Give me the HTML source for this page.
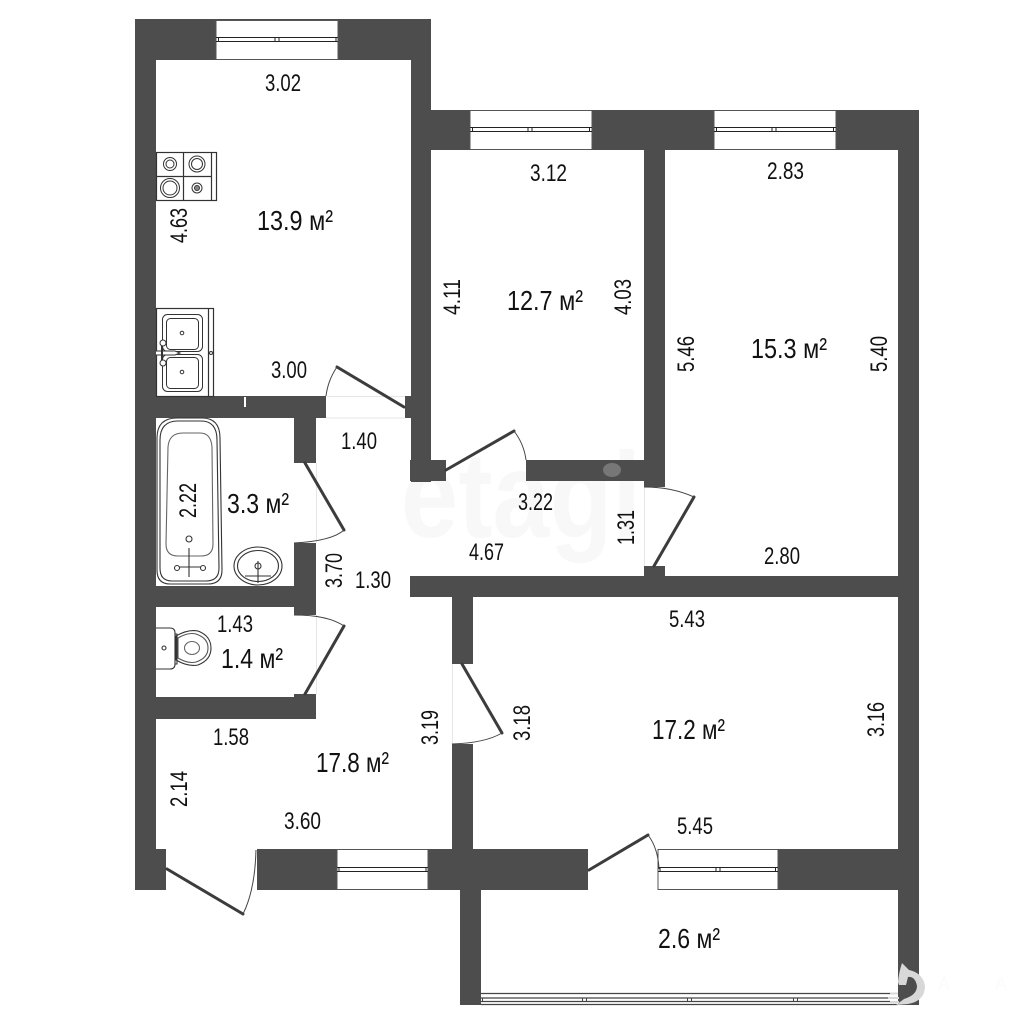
<!DOCTYPE html>
<html><head><meta charset="utf-8"><style>
html,body{margin:0;padding:0;background:#fff}
svg{display:block}
text{font-family:"Liberation Sans",sans-serif;fill:#111}
.d{font-size:24px}
.a{font-size:28px}
</style></head><body>
<svg width="1024" height="1024" viewBox="0 0 1024 1024" xmlns="http://www.w3.org/2000/svg">
<rect width="1024" height="1024" fill="#fff"/>
<!-- watermark -->
<text x="401" y="537" font-size="122" font-weight="bold" textLength="240" lengthAdjust="spacingAndGlyphs" style="fill:#f8f8f8">etagi</text>
<!-- walls -->
<g fill="#4d4d4d">
<rect x="135" y="19" width="296" height="41"/>
<rect x="135" y="19" width="21" height="871"/>
<rect x="135" y="849" width="31" height="41"/>
<rect x="411" y="19" width="20" height="463"/>
<rect x="405" y="396" width="6" height="22"/>
<rect x="431" y="110" width="488" height="40"/>
<rect x="898" y="110" width="21" height="895"/>
<rect x="410" y="460" width="36" height="21"/>
<rect x="526" y="460" width="118" height="21"/>
<rect x="644" y="150" width="21" height="337"/>
<rect x="644" y="566" width="21" height="10"/>
<rect x="410" y="576" width="509" height="21"/>
<rect x="452" y="597" width="21" height="67"/>
<rect x="452" y="744" width="21" height="106"/>
<rect x="257" y="849" width="331" height="41"/>
<rect x="778" y="849" width="120" height="41"/>
<rect x="460" y="890" width="21" height="115"/>
<rect x="156" y="396" width="170" height="22"/>
<rect x="294" y="418" width="22" height="45"/>
<rect x="294" y="543" width="22" height="72"/>
<rect x="156" y="586" width="138" height="21"/>
<rect x="156" y="697" width="160" height="22"/>
<rect x="294" y="694" width="22" height="3"/>
</g>
<rect x="244" y="397" width="2" height="10" fill="#fff"/>
<ellipse cx="612" cy="470" rx="9" ry="7" fill="#777"/>
<!-- thin threshold lines -->
<g stroke="#e6e6e6" stroke-width="1" fill="none">
<path d="M326.5 396.5H405M326 418H405M316.5 463V543M316.500 615V694M452.5 664V744M644.5 487V566"/>
</g>
<!-- windows -->
<g fill="#fff" stroke="#555" stroke-width="1">
<rect x="216" y="20.5" width="122" height="39"/>
<rect x="470" y="110.5" width="122" height="39"/>
<rect x="714" y="110.5" width="122" height="39"/>
<rect x="337" y="849.5" width="91" height="40"/>
<rect x="658" y="849.5" width="120" height="40"/>
</g>
<g stroke="#222" stroke-width="1" fill="none">
<path d="M216 37.5H338M216 41.5H338M218.5 37V42M336 37V42M275 37V42M279 37V42"/>
<path d="M470 127.5H592M470 131.5H592M472.5 127V132M589.5 127V132M528 127V132M532 127V132"/>
<path d="M714 127.5H836M714 131.5H836M716.5 127V132M833.5 127V132M772 127V132M776 127V132"/>
<path d="M337 867.5H428M337 871.5H428M339 867V872M426 867V872"/>
<path d="M658 867.5H778M658 871.5H778M660 867V872M775.5 867V872M716 867V872M720 867V872"/>
</g>
<!-- balcony window -->
<g stroke="#444" stroke-width="1.2" fill="none">
<path d="M481 993.5H890M481 998H890M481 1001.5H890M481 1004.5H898"/>
<path d="M482.5 998V1002M582.5 998V1002M586.5 998V1002M687.5 998V1002M691.5 998V1002M793.5 998V1002M797.5 998V1002" stroke-width="1"/>
</g>
<!-- doors -->
<g stroke="#3c3c3c" stroke-width="3" fill="none" stroke-linecap="round">
<path d="M167 869L243 914"/>
<path d="M404 407L337 367"/>
<path d="M446 470L514 431"/>
<path d="M654 566L694 497"/>
<path d="M305 463L344 530"/>
<path d="M305 694L344 626"/>
<path d="M462 664L502 733"/>
<path d="M589 870L648 835"/>
</g>
<g stroke="#444" stroke-width="1" fill="none">
<path d="M243 914Q255 890 256 850"/>
<path d="M337 367Q328 380 326 396"/>
<path d="M514 431Q524 444 526 460"/>
<path d="M644 487Q672 487 694 497"/>
<path d="M344 530Q332 541 294 543"/>
<path d="M294 615Q328 615 344 626"/>
<path d="M502 733Q485 743 452 744"/>
<path d="M648 835Q658 848 659 869"/>
</g>
<!-- stove -->
<g stroke="#333" fill="none" stroke-width="1">
<rect x="156.5" y="152.5" width="60" height="48" stroke-width="1.2"/>
<path d="M183.5 152V200M211.5 152V200M156 176.5H211" stroke-width="1.2"/>
<circle cx="170" cy="164" r="6.5"/><circle cx="170" cy="164" r="4"/>
<circle cx="197" cy="164" r="8"/><circle cx="197" cy="164" r="5.5"/>
<circle cx="170" cy="188" r="9.5"/><circle cx="170" cy="188" r="7"/>
<circle cx="197" cy="188" r="5" /><circle cx="197" cy="188" r="2.5" fill="#888"/>
</g>
<!-- sink -->
<g stroke="#333" fill="none" stroke-width="1">
<rect x="156.5" y="308.5" width="57" height="88" stroke-width="1.2"/>
<path d="M208.5 308V396" stroke-width="1.2"/>
<rect x="162.5" y="314.5" width="40" height="37" rx="5"/>
<rect x="166.5" y="318.5" width="32" height="31" rx="4"/>
<rect x="162.5" y="354.5" width="40" height="37" rx="5"/>
<rect x="166.5" y="357.5" width="32" height="31" rx="4"/>
<circle cx="182" cy="333" r="1.8"/><circle cx="182" cy="372" r="1.8"/>
<circle cx="211" cy="353" r="1.5"/>
<path d="M156 351H175L180 353L175 355H156" fill="#fff"/>
<path d="M162 342V363" stroke-width="2"/>
<circle cx="163" cy="343" r="3" fill="#fff"/><circle cx="163" cy="363" r="3" fill="#fff"/>
</g>
<!-- bath -->
<g stroke="#333" fill="none" stroke-width="1.1">
<path d="M157 438Q157 418 177 418H202Q220 418 220 438L222 570Q222 584 208 584H170Q157 584 157 570Z"/>
<path d="M160 440Q160 421 178 421H201Q217 421 217 440L219 568Q219 581 206 581H172Q160 581 160 568Z"/>
<path d="M168 447Q169 433 183 433H200Q211 433 212 447L213 544Q213 556 201 556H178Q166 556 166 544Z" stroke="#666"/>
<circle cx="189" cy="539" r="3"/>
<path d="M189 548V577M177 567H202"/>
<circle cx="177" cy="568" r="2.5" fill="#fff"/><circle cx="203" cy="568" r="2.5" fill="#fff"/>
</g>
<!-- basin -->
<g stroke="#333" fill="none" stroke-width="1.1">
<ellipse cx="258" cy="566" rx="24" ry="19"/>
<ellipse cx="258" cy="566" rx="20.500" ry="15.500"/>
<circle cx="258" cy="566" r="3"/>
<path d="M258 561V583M245 576H271"/>
</g>
<!-- toilet -->
<g stroke="#333" fill="none" stroke-width="1.1">
<path d="M156 628H170Q175 628 175 633V664Q175 669 170 669H156"/>
<path d="M175 634H177V664H175"/>
<circle cx="164" cy="648" r="2"/>
<path d="M176 636Q188 629 198 631Q211 636 211 648Q211 660 198 665Q188 667 176 660Z"/>
<path d="M178 638Q188 632 196 634Q208 638 208 648Q208 658 196 662Q188 664 178 658Z" stroke="#555"/>
<ellipse cx="192" cy="648" rx="7.500" ry="6.500" stroke="#666"/>
</g>
<!-- logo -->
<path d="M898 982Q899 972 902 963L909 970Q923 973 925 986Q925 1001 908 1004L896 1005L904 999Q917 995 917 986Q915 976 908 977L906 985L899 985Z" fill="#d8d8d8"/>
<path d="M890 993.500H898M888 998H899M890 1002H899" stroke="#d8d8d8" stroke-width="2" fill="none"/>
<text x="938" y="990" font-size="18" style="fill:#fbfbfb">A</text>
<text x="995" y="990" font-size="18" style="fill:#fbfbfb">A</text>
<!-- horizontal dims -->
<g class="d">
<text x="265" y="91" textLength="36" lengthAdjust="spacingAndGlyphs">3.02</text>
<text x="530" y="181" textLength="37" lengthAdjust="spacingAndGlyphs">3.12</text>
<text x="767" y="179" textLength="37" lengthAdjust="spacingAndGlyphs">2.83</text>
<text x="271" y="378" textLength="36" lengthAdjust="spacingAndGlyphs">3.00</text>
<text x="341" y="449" textLength="36" lengthAdjust="spacingAndGlyphs">1.40</text>
<text x="518" y="510" textLength="35" lengthAdjust="spacingAndGlyphs">3.22</text>
<text x="469" y="560" textLength="35" lengthAdjust="spacingAndGlyphs">4.67</text>
<text x="764" y="564" textLength="36" lengthAdjust="spacingAndGlyphs">2.80</text>
<text x="355" y="588" textLength="36" lengthAdjust="spacingAndGlyphs">1.30</text>
<text x="217" y="632" textLength="36" lengthAdjust="spacingAndGlyphs">1.43</text>
<text x="669" y="627" textLength="36" lengthAdjust="spacingAndGlyphs">5.43</text>
<text x="213" y="745" textLength="36" lengthAdjust="spacingAndGlyphs">1.58</text>
<text x="284" y="829" textLength="37" lengthAdjust="spacingAndGlyphs">3.60</text>
<text x="677" y="834" textLength="36" lengthAdjust="spacingAndGlyphs">5.45</text>
<!-- rotated dims -->
<text transform="translate(187 243) rotate(-90)" textLength="35" lengthAdjust="spacingAndGlyphs">4.63</text>
<text transform="translate(460 315) rotate(-90)" textLength="36" lengthAdjust="spacingAndGlyphs">4.11</text>
<text transform="translate(631 315) rotate(-90)" textLength="36" lengthAdjust="spacingAndGlyphs">4.03</text>
<text transform="translate(694 372) rotate(-90)" textLength="36" lengthAdjust="spacingAndGlyphs">5.46</text>
<text transform="translate(887 372) rotate(-90)" textLength="36" lengthAdjust="spacingAndGlyphs">5.40</text>
<text transform="translate(634 545) rotate(-90)" textLength="35" lengthAdjust="spacingAndGlyphs">1.31</text>
<text transform="translate(196 518) rotate(-90)" textLength="35" lengthAdjust="spacingAndGlyphs">2.22</text>
<text transform="translate(342 588) rotate(-90)" textLength="35" lengthAdjust="spacingAndGlyphs">3.70</text>
<text transform="translate(530 741) rotate(-90)" textLength="36" lengthAdjust="spacingAndGlyphs">3.18</text>
<text transform="translate(438 745) rotate(-90)" textLength="35" lengthAdjust="spacingAndGlyphs">3.19</text>
<text transform="translate(884 737) rotate(-90)" textLength="35" lengthAdjust="spacingAndGlyphs">3.16</text>
<text transform="translate(187 807) rotate(-90)" textLength="36" lengthAdjust="spacingAndGlyphs">2.14</text>
</g>
<!-- areas -->
<g class="a">
<text x="257" y="230" textLength="76" lengthAdjust="spacingAndGlyphs">13.9 м²</text>
<text x="507" y="310" textLength="76" lengthAdjust="spacingAndGlyphs">12.7 м²</text>
<text x="751" y="358" textLength="76" lengthAdjust="spacingAndGlyphs">15.3 м²</text>
<text x="227" y="513" textLength="62" lengthAdjust="spacingAndGlyphs">3.3 м²</text>
<text x="221" y="668" textLength="62" lengthAdjust="spacingAndGlyphs">1.4 м²</text>
<text x="652" y="739" textLength="73" lengthAdjust="spacingAndGlyphs">17.2 м²</text>
<text x="316" y="772" textLength="73" lengthAdjust="spacingAndGlyphs">17.8 м²</text>
<text x="658" y="948" textLength="62" lengthAdjust="spacingAndGlyphs">2.6 м²</text>
</g>
</svg>
</body></html>
